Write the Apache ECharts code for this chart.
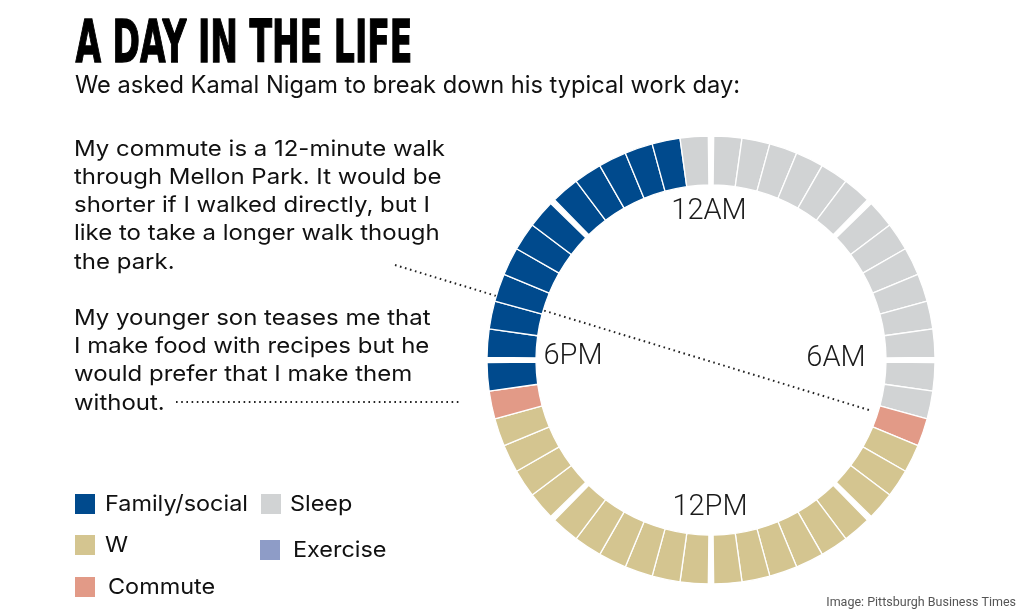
<!DOCTYPE html>
<html>
<head>
<meta charset="utf-8">
<script src="https://cdn.jsdelivr.net/npm/echarts@6/dist/echarts.min.js"></script>
<style>
html,body{margin:0;padding:0;background:#fff;}
#chart{width:1024px;height:614px;}
</style>
</head>
<body>
<div id="chart"></div>
<script>
// ---- data ----
const categories = ['Family/social', 'Sleep', 'W', 'Exercise', 'Commute'];
const categoryColors = ['#004a8d', '#d1d3d4', '#d4c590', '#8e9cc7', '#e29a87'];
// activity for each half hour, starting at 12:00 AM (48 slots)
const halfHourSchedule = [
  // 12AM - 3AM
  'Sleep','Sleep','Sleep','Sleep','Sleep','Sleep',
  // 3AM - 6AM
  'Sleep','Sleep','Sleep','Sleep','Sleep','Sleep',
  // 6AM - 9AM
  'Sleep','Sleep','Commute','W','W','W',
  // 9AM - 12PM
  'W','W','W','W','W','W',
  // 12PM - 3PM
  'W','W','W','W','W','W',
  // 3PM - 6PM
  'W','W','W','W','Commute','Family/social',
  // 6PM - 9PM
  'Family/social','Family/social','Family/social','Family/social','Family/social','Family/social',
  // 9PM - 12AM
  'Family/social','Family/social','Family/social','Family/social','Family/social','Sleep'
];
const clockLabels = ['12AM', '6AM', '12PM', '6PM'];
const titleText = 'A DAY IN THE LIFE';
const subtitleText = 'We asked Kamal Nigam to break down his typical work day:';
const quoteLines = [
  'My commute is a 12-minute walk',
  'through Mellon Park. It would be',
  'shorter if I walked directly, but I',
  'like to take a longer walk though',
  'the park.',
  '',
  'My younger son teases me that',
  'I make food with recipes but he',
  'would prefer that I make them',
  'without.'
];
const sourceText = 'Image: Pittsburgh Business Times';

// ---- build ----
const colorOf = {};
categories.forEach((c, i) => colorOf[c] = categoryColors[i]);
const slotsPerGroup = 6;
const gapUnits = 0.19;
const pieData = [];
halfHourSchedule.forEach((act, i) => {
  if (i % slotsPerGroup === 0) {
    pieData.push({ value: gapUnits, name: '', itemStyle: { color: 'rgba(0,0,0,0)', borderWidth: 0 }, emphasis: { disabled: true }, tooltip: { show: false } });
  }
  pieData.push({ value: 1, name: act, itemStyle: { color: colorOf[act] } });
});
const totalUnits = halfHourSchedule.length + gapUnits * (halfHourSchedule.length / slotsPerGroup);
const startAngle = 90 + (gapUnits * 360 / totalUnits) / 2;

const cx = 711, cy = 360;

// text measuring, used to fit the fonts to the reference widths
const cv = document.createElement('canvas').getContext('2d');
function measure(font, text) { cv.font = font; return cv.measureText(text).width; }
const titleFont = 'bold 58px "DejaVu Sans"';
const titleScale = 337 / measure(titleFont, titleText);
const subFont = '24px Inter, Roboto, sans-serif';
const subScale = 665 / measure(subFont, subtitleText);
const bodyFont = '22px Inter, Roboto, sans-serif';
const bodyAvg = quoteLines.slice(0, 4).reduce((s, l) => s + measure(bodyFont, l), 0) / 4;
const bodyScale = 365 / bodyAvg;
const legFont = '22px Inter, Roboto, sans-serif';
const legScale = 143 / measure(legFont, categories[0]);

const graphics = [];
graphics.push({
  type: 'text', left: 75, top: 17, scaleX: titleScale,
  style: { text: titleText, font: titleFont, fill: '#000', stroke: '#000', lineWidth: 1.4 }
});
graphics.push({
  type: 'text', x: 75, y: 86, scaleX: subScale,
  style: { text: subtitleText, font: subFont, fill: '#111', verticalAlign: 'middle' }
});
graphics.push({
  type: 'text', x: 74, y: 135, scaleX: bodyScale,
  style: { text: quoteLines.join('\n'), font: bodyFont, fill: '#111', lineHeight: 28.2 }
});
// dotted leader lines
graphics.push({ type: 'line', shape: { x1: 395, y1: 265, x2: 869, y2: 410 },
  style: { stroke: '#222', lineWidth: 2, lineDash: [1.6, 3.6] } });
graphics.push({ type: 'line', shape: { x1: 176, y1: 402, x2: 461, y2: 402 },
  style: { stroke: '#222', lineWidth: 2, lineDash: [1.6, 3.6] } });
// clock labels
const clockPos = [[709, 212], [836, 359], [710, 508], [573, 357]];
clockLabels.forEach((t, i) => {
  graphics.push({ type: 'text', x: clockPos[i][0], y: clockPos[i][1],
    style: { text: t, font: '300 29px Roboto', fill: '#1a1a1a', align: 'center', verticalAlign: 'middle' } });
});
// legend
const legendPos = {
  'Family/social': [75, 494, 105],
  'Sleep': [261, 494, 290],
  'W': [75, 535, 105],
  'Exercise': [260, 540, 293],
  'Commute': [75, 577, 108]
};
categories.forEach((c, i) => {
  const p = legendPos[c];
  graphics.push({ type: 'rect', shape: { x: p[0], y: p[1], width: 20, height: 20 }, style: { fill: categoryColors[i] } });
  graphics.push({ type: 'text', x: p[2], y: p[1] + 10, scaleX: legScale,
    style: { text: c, font: legFont, fill: '#111', verticalAlign: 'middle' } });
});
graphics.push({ type: 'text', x: 1016, y: 603,
  style: { text: sourceText, font: '12.5px Roboto', fill: '#555', align: 'right', verticalAlign: 'middle' } });

const chart = echarts.init(document.getElementById('chart'), null, { renderer: 'canvas' });
chart.setOption({
  backgroundColor: '#fff',
  animation: false,
  series: [{
    type: 'pie',
    center: [cx, cy],
    radius: [175, 224],
    startAngle: startAngle,
    clockwise: true,
    avoidLabelOverlap: false,
    label: { show: false },
    labelLine: { show: false },
    itemStyle: { borderColor: '#fff', borderWidth: 1.3 },
    emphasis: { scale: false },
    data: pieData
  }],
  graphic: graphics
});
</script>
</body>
</html>
